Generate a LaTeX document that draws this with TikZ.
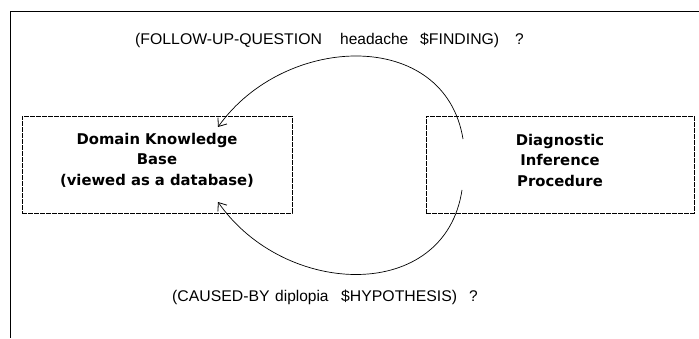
\documentclass[tikz,border=0pt]{standalone}
\usepackage{fontspec}
\setmainfont{Liberation Sans}
\newfontfamily\boxfont{DejaVu Sans}
\usetikzlibrary{arrows.meta}
\newcommand{\wcaps}[1]{\scalebox{1.02}[1]{#1}}
\tikzset{
  framebox/.style={draw, line width=0.8pt, dash pattern=on 5pt off 1pt, minimum width=270pt, minimum height=97pt, inner sep=0pt},
  boxtext/.style={align=center, font=\boxfont\bfseries\fontsize{14.8}{20.5}\selectfont, inner sep=0pt},
  lbl/.style={font=\fontsize{15.5}{17}\selectfont, inner sep=0pt, anchor=base west},
  conn/.style={line width=0.7pt, -{Straight Barb[length=7pt,width=11pt,line width=0.8pt]}}
}
\begin{document}
\begin{tikzpicture}[x=1pt,y=1pt]
\useasboundingbox (0,0) rectangle (699,338);
% outer frame (open at right and bottom)
\draw[line width=0.8pt] (699,327) -- (10,327) -- (10,0);
% boxes
\node[framebox] (kb) at (157,173.5) {};
\node[framebox, minimum width=268pt] (dip) at (560,173.5) {};
\node[boxtext] (kbtext) at (157,178) {Domain Knowledge\\Base\\(viewed as a database)};
\node[boxtext] (diptext) at (560,178) {Diagnostic\\Inference\\Procedure};
% labels
\node[lbl] (q1a) at (135,293) {\wcaps{(FOLLOW-UP-QUESTION}};
\node[lbl] (q1b) at (340,293) {headache};
\node[lbl] (q1c) at (420,293) {\wcaps{\$FINDING)}};
\node[lbl] (q1d) at (515,293) {?};
\node[lbl] (q2a) at (172,37) {\wcaps{(CAUSED-BY}};
\node[lbl] (q2b) at (275,37) {diplopia};
\node[lbl] (q2c) at (341,37) {\wcaps{\$HYPOTHESIS)}};
\node[lbl] (q2d) at (469,37) {?};
% connectors
\coordinate (s1) at (463,199);
\coordinate (e1) at (218,211);
\coordinate (s2) at (462,148);
\coordinate (e2) at (218,136);
\draw[conn] (s1) .. controls (445,310) and (285,305) .. (e1);
\draw[conn] (s2) .. controls (445,35) and (285,40) .. (e2);
\end{tikzpicture}
\end{document}
